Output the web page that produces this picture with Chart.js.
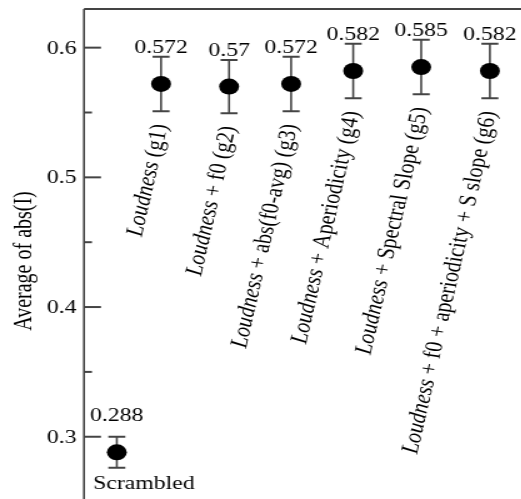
<!DOCTYPE html>
<html>
<head>
<meta charset="utf-8">
<script src="https://cdn.jsdelivr.net/npm/chart.js@4.4.1/dist/chart.umd.min.js"></script>
<style>
  html, body { margin: 0; padding: 0; background: #fff; overflow: hidden; }
  /* the reference is stretched sideways, so the whole chart is drawn narrow and scaled */
  #wrap { width: 417px; height: 499px; transform: scaleX(1.25); transform-origin: 0 0; }
</style>
</head>
<body>
<div id="wrap"><canvas id="chart"></canvas></div>
<script>
const groups = [
  'Scrambled',
  'Loudness (g1)',
  'Loudness + f0 (g2)',
  'Loudness + abs(f0-avg) (g3)',
  'Loudness + Aperiodicity (g4)',
  'Loudness + Spectral Slope (g5)',
  'Loudness + f0 + aperiodicity + S slope (g6)'
];
const positions = [0.33, 1, 2.03, 2.97, 3.91, 4.94, 5.98];
const means = [0.288, 0.572, 0.57, 0.572, 0.582, 0.585, 0.582];
const errors = [0.012, 0.021, 0.0205, 0.021, 0.021, 0.021, 0.021];
const majorTicks = [0.3, 0.4, 0.5, 0.6];
const minorTicks = [0.35, 0.45, 0.55];
const yTitle = 'Average of abs(I)';

const serif = "'Liberation Serif', 'Times New Roman', serif";

const decor = {
  id: 'decor',
  beforeDatasetsDraw(chart) {
    const { ctx, scales: { y } } = chart;
    const meta = chart.getDatasetMeta(0);
    ctx.save();
    ctx.strokeStyle = '#444';
    meta.data.forEach((pt, i) => {
      const top = y.getPixelForValue(means[i] + errors[i]);
      const bot = y.getPixelForValue(means[i] - errors[i]);
      ctx.lineWidth = 1.6;
      ctx.beginPath();
      ctx.moveTo(pt.x, top);
      ctx.lineTo(pt.x, bot);
      ctx.stroke();
      ctx.lineWidth = 2;
      ctx.beginPath();
      ctx.moveTo(pt.x - 6.8, top);
      ctx.lineTo(pt.x + 6.8, top);
      ctx.moveTo(pt.x - 6.8, bot);
      ctx.lineTo(pt.x + 6.8, bot);
      ctx.stroke();
    });
    ctx.restore();
  },
  afterDraw(chart) {
    const { ctx, chartArea: a, scales: { y } } = chart;
    const meta = chart.getDatasetMeta(0);
    ctx.save();
    // frame: left axis and top line
    ctx.strokeStyle = '#444';
    ctx.lineWidth = 1.6;
    ctx.beginPath();
    ctx.moveTo(a.left, a.top);
    ctx.lineTo(a.left, a.bottom);
    ctx.stroke();
    ctx.lineWidth = 2;
    ctx.beginPath();
    ctx.moveTo(a.left, a.top);
    ctx.lineTo(a.right, a.top);
    ctx.stroke();
    // inward tick marks with labels outside
    ctx.fillStyle = '#000';
    ctx.font = '19px ' + serif;
    ctx.textAlign = 'right';
    ctx.textBaseline = 'middle';
    majorTicks.forEach(v => {
      const py = y.getPixelForValue(v);
      ctx.beginPath();
      ctx.moveTo(a.left, py);
      ctx.lineTo(a.left + 13.6, py);
      ctx.stroke();
      ctx.fillText(String(v), a.left - 6, py + 1);
    });
    minorTicks.forEach(v => {
      const py = y.getPixelForValue(v);
      ctx.beginPath();
      ctx.moveTo(a.left, py);
      ctx.lineTo(a.left + 6.4, py);
      ctx.stroke();
    });

    // axis title, a bit below the middle as in the original
    ctx.save();
    ctx.translate(19.5, (a.top + a.bottom) / 2 + 7);
    ctx.rotate(-Math.PI / 2);
    ctx.textAlign = 'center';
    ctx.font = '20px ' + serif;
    ctx.fillText(yTitle, 0, 0);
    ctx.restore();

    meta.data.forEach((pt, i) => {
      // value above each point
      ctx.font = '19px ' + serif;
      ctx.textAlign = 'center';
      ctx.textBaseline = 'alphabetic';
      ctx.fillText(String(means[i]), pt.x, pt.y - 31);

      const bot = y.getPixelForValue(means[i] - errors[i]);
      const name = groups[i];
      if (!name.startsWith('Loudness')) {
        ctx.textAlign = 'left';
        ctx.fillText(name, pt.x - 19, bot + 21);
        return;
      }
      const rest = name.slice('Loudness'.length);
      ctx.save();
      ctx.translate(pt.x, bot + 13);
      ctx.rotate(-79.5 * Math.PI / 180);
      ctx.textAlign = 'right';
      ctx.textBaseline = 'middle';
      ctx.font = '20px ' + serif;
      ctx.fillText(rest, 0, 0);
      const w = ctx.measureText(rest).width;
      ctx.font = 'italic 20px ' + serif;
      ctx.fillText('Loudness', -w, 0);
      ctx.restore();
    });
    ctx.restore();
  }
};

new Chart(document.getElementById('chart'), {
  type: 'scatter',
  data: {
    datasets: [{
      data: positions.map((x, i) => ({ x: x, y: means[i] })),
      pointRadius: 8,
      pointHoverRadius: 8,
      pointBackgroundColor: '#000',
      pointBorderWidth: 0
    }]
  },
  options: {
    responsive: true,
    maintainAspectRatio: false,
    animation: false,
    layout: { autoPadding: false, padding: { top: 9, right: 0, bottom: 0, left: 0 } },
    plugins: { legend: { display: false }, tooltip: { enabled: false } },
    scales: {
      x: { type: 'linear', min: -0.167, max: 6.455, display: false },
      y: {
        min: 0.252,
        max: 0.6298,
        grid: { display: false, drawTicks: false },
        border: { display: false },
        ticks: { display: false },
        afterFit: scale => {
          scale.width = 67.2;
          scale.paddingTop = 0;
          scale.paddingBottom = 0;
        }
      }
    }
  },
  plugins: [decor]
});
</script>
</body>
</html>
